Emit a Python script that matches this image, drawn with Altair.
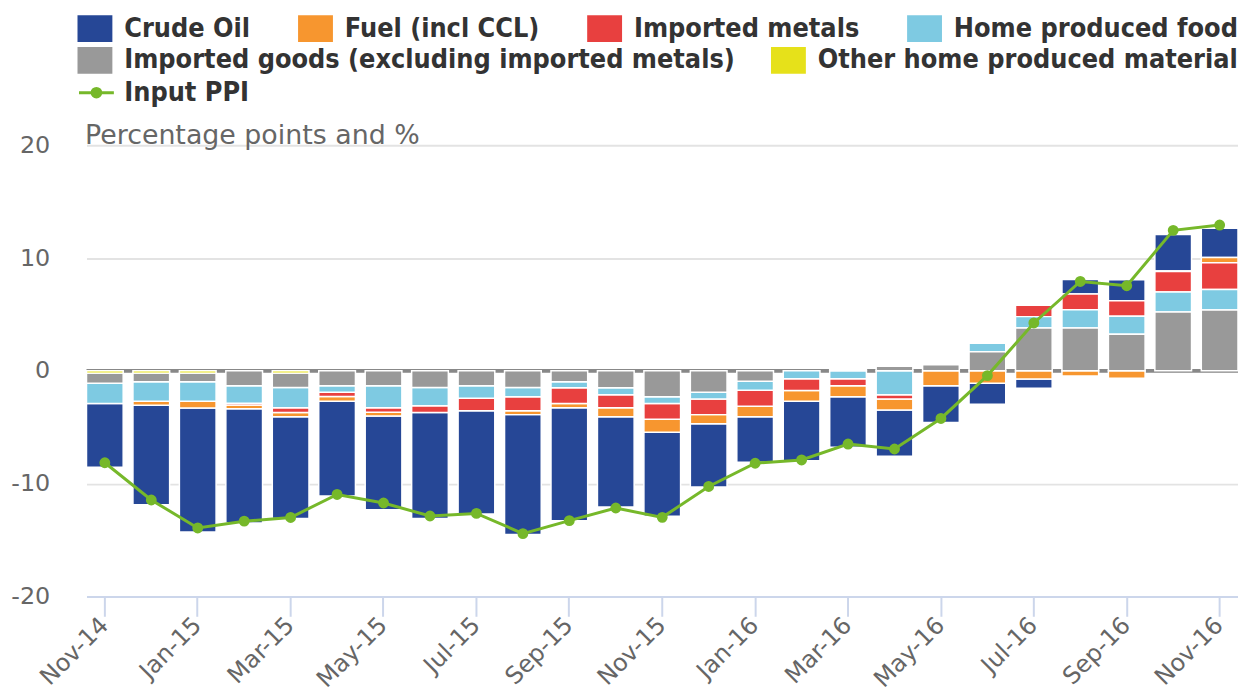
import altair as alt
import pandas as pd

months = ["Nov-14", "Dec-14", "Jan-15", "Feb-15", "Mar-15", "Apr-15", "May-15", "Jun-15",
          "Jul-15", "Aug-15", "Sep-15", "Oct-15", "Nov-15", "Dec-15", "Jan-16", "Feb-16",
          "Mar-16", "Apr-16", "May-16", "Jun-16", "Jul-16", "Aug-16", "Sep-16", "Oct-16", "Nov-16"]

crude = [-5.65, -8.82, -10.98, -10.13, -9.04, -8.41, -8.31, -9.40, -9.17, -10.62, -10.03, -8.01,
         -7.45, -5.62, -4.04, -5.27, -4.48, -4.09, -3.25, -1.87, -0.83, 1.30, 1.86, 3.24, 2.59]
fuel = [0, -0.35, -0.60, -0.35, -0.36, -0.41, -0.34, 0, 0, -0.35, -0.37, -0.78,
        -1.17, -0.80, -0.93, -0.94, -0.98, -0.98, -1.32, -1.09, -0.72, -0.45, -0.66, 0.05, 0.47]
metals = [0, 0, 0, -0.15, -0.43, -0.38, -0.39, -0.61, -1.10, -1.23, -1.40, -1.16,
          -1.38, -1.38, -1.41, -1.05, -0.62, -0.38, 0, 0, 1.00, 1.40, 1.38, 1.82, 2.36]
food = [-1.80, -1.73, -1.73, -1.55, -1.79, -0.58, -1.95, -1.61, -1.11, -0.82, -0.53, -0.62,
        -0.60, -0.60, -0.79, -0.70, -0.70, -2.12, 0, 0.74, 1.00, 1.60, 1.59, 1.77, 1.82]
imported = [-0.90, -0.77, -0.77, -1.32, -1.28, -1.32, -1.32, -1.48, -1.32, -1.48, -0.97, -1.50,
            -2.30, -1.90, -0.93, 0, 0.15, 0.40, 0.55, 1.70, 3.81, 3.81, 3.25, 5.22, 5.40]
other = [-0.20, -0.20, -0.20, 0, -0.20, 0, 0, 0, 0, 0, 0, 0,
         0, 0, 0, 0, 0, 0, 0, 0, 0, 0, 0, 0, 0]
ppi = [-8.15, -11.45, -13.93, -13.33, -13.00, -10.96, -11.72, -12.87, -12.64, -14.43, -13.28, -12.16,
       -12.99, -10.25, -8.19, -7.90, -6.49, -6.93, -4.22, -0.42, 4.25, 7.93, 7.55, 12.46, 12.93]

series_names = ["Crude Oil", "Fuel (incl CCL)", "Imported metals", "Home produced food",
                "Imported goods (excluding imported metals)", "Other home produced material"]
series_colors = ["#264796", "#f7962f", "#e8403f", "#7ecae2", "#999999", "#e6e11a"]
stack_order = [5, 4, 3, 2, 1, 0]
series_values = [crude, fuel, metals, food, imported, other]

rows = []
for name, vals, o in zip(series_names, series_values, stack_order):
    for m, v in zip(months, vals):
        if v != 0:
            rows.append({"month": m, "series": name, "value": v, "ord": o})
bars_df = pd.DataFrame(rows)
ppi_df = pd.DataFrame({"month": months, "value": ppi, "series": ["Input PPI"] * len(months)})
zero_df = pd.DataFrame({"value": [0]})

GREEN = "#76b82a"
TITLE = "Percentage points and %"

y_scale = alt.Scale(domain=[-20, 20], nice=False, zero=False)
y_axis = alt.Axis(values=[-20, -10, 0, 10, 20], title=TITLE,
                  labelExpr="'' + datum.value")
x_enc = alt.X("month:N", sort=months, title=None,
              scale=alt.Scale(paddingInner=0.21, paddingOuter=0),
              axis=alt.Axis(values=months[::2], title=None))

rect_path = "M-1.3,-1H1.3V1H-1.3Z"
ppi_path = "M-1.3,0H1.3M-0.32,0A0.32,0.32 0 1,1 0.32,0A0.32,0.32 0 1,1 -0.32,0Z"

legend_common = dict(orient="none", title=None, padding=0,
                     labelFont="DejaVu Sans Condensed", labelFontWeight="bold",
                     labelFontSize=27, labelColor="#333333", labelLimit=1200,
                     symbolSize=729)
box_legend = dict(direction="horizontal", symbolType=rect_path,
                  symbolStrokeWidth=0, symbolOpacity=1, labelOffset=16, **legend_common)

zero_rule = alt.Chart(zero_df).mark_rule(color="#888888", strokeWidth=4).encode(
    y=alt.Y("value:Q", scale=y_scale, axis=y_axis, title=TITLE)
)

bars = alt.Chart(bars_df).mark_bar(stroke="white", strokeWidth=1.5).encode(
    x=x_enc,
    y=alt.Y("value:Q", stack="zero", scale=y_scale, axis=y_axis, title=TITLE),
    color=alt.Color("series:N",
                    scale=alt.Scale(domain=series_names, range=series_colors),
                    legend=alt.Legend(values=series_names[:4], legendX=-5, legendY=-131,
                                      columnPadding=47, **box_legend)),
    order=alt.Order("ord:Q", sort="ascending"),
)

# second legend row (same series colours), drawn from an empty layer
legend_row2 = alt.Chart(bars_df).transform_calculate(
    series_b="datum.series"
).transform_filter("false").mark_bar().encode(
    x=x_enc,
    y=alt.Y("value:Q", scale=y_scale, axis=y_axis, title=TITLE),
    fill=alt.Fill("series_b:N",
                  scale=alt.Scale(domain=series_names, range=series_colors),
                  legend=alt.Legend(values=series_names[4:], legendX=-5, legendY=-99,
                                    columnPadding=35, **box_legend)),
)

line = alt.Chart(ppi_df).mark_line(
    strokeWidth=3,
    point=alt.OverlayMarkDef(filled=True, size=80, fill=GREEN, color=GREEN),
).encode(
    x=x_enc,
    y=alt.Y("value:Q", scale=y_scale, axis=y_axis, title=TITLE),
    stroke=alt.Stroke("series:N", scale=alt.Scale(domain=["Input PPI"], range=[GREEN]),
                      legend=alt.Legend(legendX=-5, legendY=-68, symbolType=ppi_path,
                                        symbolStrokeWidth=3, symbolFillColor=GREEN,
                                        symbolStrokeColor=GREEN, labelOffset=13,
                                        **legend_common)),
)

chart = alt.layer(zero_rule, bars, legend_row2, line).properties(
    width=1159, height=454,
    padding={"left": 79, "top": 136, "right": 0, "bottom": 95},
    autosize=alt.AutoSizeParams(type="none"),
).resolve_scale(color="independent", fill="independent").configure_view(stroke=None).configure_axisX(
    labelAngle=-45, labelAlign="right", labelBaseline="middle", labelPadding=5,
    tickSize=20, tickWidth=2, tickColor="#ccd6eb", domainColor="#ccd6eb", domainWidth=2,
    labelFontSize=24, labelColor="#666666", labelFont="DejaVu Sans", grid=False,
).configure_axisY(
    domain=False, ticks=False, labelPadding=37, labelFontSize=24, labelColor="#666666",
    labelFont="DejaVu Sans", gridColor="#e3e3e3", gridWidth=2,
    titleAngle=0, titleAlign="left", titleBaseline="alphabetic", titleX=-2, titleY=-2,
    titleFontSize=27, titleFontWeight="normal", titleColor="#666666", titleFont="DejaVu Sans",
)

chart.save("out.html", embed_options={"renderer": "svg", "actions": False})
